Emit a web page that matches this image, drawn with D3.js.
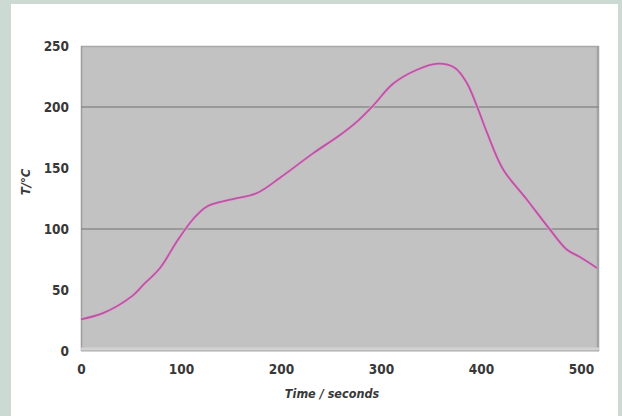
<!DOCTYPE html>
<html>
<head>
<meta charset="utf-8">
<script src="https://cdn.jsdelivr.net/npm/d3@7"></script>
<style>
  html, body { margin: 0; padding: 0; background: #cdd9d3; }
  svg { display: block; }
  .tick text { font-family: "DejaVu Sans Condensed", "Liberation Sans Narrow", sans-serif; font-weight: bold; }
</style>
</head>
<body>
<svg id="chart" width="622" height="416"></svg>
<script>
// Data (time in seconds, temperature in °C)
const timeSeconds = [0, 22, 51, 62, 79, 96, 112, 126, 149, 176, 199, 232, 259, 276, 292, 312, 336, 357, 374, 386, 396, 406, 422, 446, 469, 486, 499, 516];
const temperatureC = [26, 31, 45, 54, 68, 90, 108, 118.5, 124, 129.5, 142, 162, 177, 188, 201, 219, 230.5, 235.5, 232, 219.5, 200.5, 179, 149, 124, 99.5, 83, 77, 68];
const xTicks = [0, 100, 200, 300, 400, 500];
const yTicks = [0, 50, 100, 150, 200, 250];
const gridValues = [100, 200];
const xTitle = "Time / seconds";
const yTitle = "T/°C";

const svg = d3.select("#chart");
const W = 622, H = 416;
const plot = { left: 81, right: 599, top: 46, bottom: 351 };

// white panel
svg.append("rect").attr("x", 11).attr("y", 4).attr("width", 607).attr("height", H - 4).attr("fill", "#ffffff");

const x = d3.scaleLinear().domain([0, 518]).range([plot.left, plot.right]);
const y = d3.scaleLinear().domain([0, 250]).range([plot.bottom, plot.top]);

// plot background
svg.append("rect")
  .attr("x", plot.left).attr("y", plot.top)
  .attr("width", plot.right - plot.left).attr("height", plot.bottom - plot.top)
  .attr("fill", "#c2c2c2");

// borders
svg.append("line").attr("x1", plot.left).attr("x2", plot.right).attr("y1", plot.top + 0.5).attr("y2", plot.top + 0.5)
  .attr("stroke", "#a9a9a9").attr("stroke-width", 1.5);
svg.append("line").attr("x1", plot.left + 0.5).attr("x2", plot.left + 0.5).attr("y1", plot.top).attr("y2", plot.bottom)
  .attr("stroke", "#9c9c9c").attr("stroke-width", 1.5);
svg.append("line").attr("x1", plot.right - 1).attr("x2", plot.right - 1).attr("y1", plot.top).attr("y2", plot.bottom)
  .attr("stroke", "#a2a2a2").attr("stroke-width", 2.5);
svg.append("line").attr("x1", plot.left).attr("x2", plot.right).attr("y1", plot.bottom - 2).attr("y2", plot.bottom - 2)
  .attr("stroke", "#d2d2d2").attr("stroke-width", 3);
svg.append("line").attr("x1", plot.left).attr("x2", plot.right).attr("y1", plot.bottom).attr("y2", plot.bottom)
  .attr("stroke", "#a8a8a8").attr("stroke-width", 1);

// gridlines
svg.append("g").selectAll("line").data(gridValues).join("line")
  .attr("x1", plot.left).attr("x2", plot.right)
  .attr("y1", d => y(d)).attr("y2", d => y(d))
  .attr("stroke", "#8b8b8b").attr("stroke-width", 1.6);

// axes
const yAxis = d3.axisLeft(y).tickValues(yTicks).tickSize(0).tickPadding(12).tickFormat(d3.format("d"));
const gy = svg.append("g").attr("transform", `translate(${plot.left},0)`).call(yAxis);
gy.select(".domain").remove();
gy.selectAll(".tick text").attr("font-size", 13.5).attr("fill", "#383838").attr("dy", "0.36em");

const xAxis = d3.axisBottom(x).tickValues(xTicks).tickSize(0).tickPadding(13).tickFormat(d3.format("d"));
const gx = svg.append("g").attr("transform", `translate(0,${plot.bottom})`).call(xAxis);
gx.select(".domain").remove();
gx.selectAll(".tick text").attr("font-size", 13.5).attr("fill", "#383838");

// line
const pts = timeSeconds.map((t, i) => [t, temperatureC[i]]);
const line = d3.line().x(d => x(d[0])).y(d => y(d[1])).curve(d3.curveCatmullRom.alpha(0.5));
svg.append("path").datum(pts).attr("d", line)
  .attr("fill", "none").attr("stroke", "#e0a8d6").attr("stroke-width", 3.6).attr("stroke-linejoin", "round").attr("opacity", 0.7);
svg.append("path").datum(pts).attr("d", line)
  .attr("fill", "none").attr("stroke", "#b8569f").attr("stroke-width", 1.8).attr("stroke-linejoin", "round");

// titles
svg.append("text").attr("x", 332).attr("y", 398).attr("text-anchor", "middle")
  .attr("font-family", "'DejaVu Sans Condensed', 'Liberation Sans Narrow', sans-serif")
  .attr("font-style", "italic").attr("font-weight", "bold").attr("font-size", 12.5).attr("fill", "#383838")
  .text(xTitle);
svg.append("text").attr("transform", "translate(30,182) rotate(-90)").attr("text-anchor", "middle")
  .attr("font-family", "'DejaVu Sans Condensed', 'Liberation Sans Narrow', sans-serif")
  .attr("font-style", "italic").attr("font-weight", "bold").attr("font-size", 13).attr("fill", "#383838")
  .text(yTitle);
</script>
</body>
</html>
